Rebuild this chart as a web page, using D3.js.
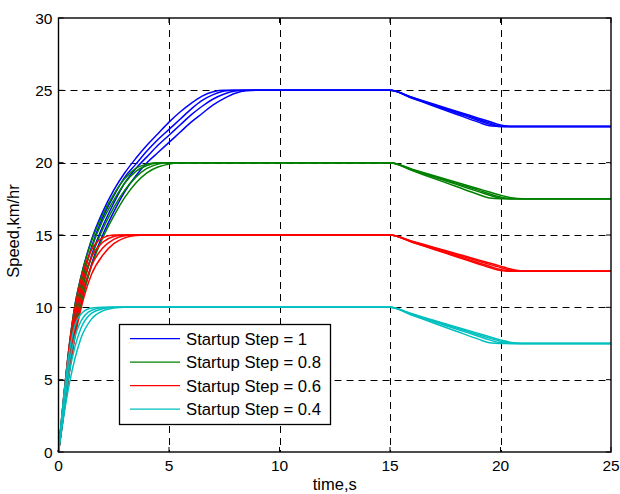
<!DOCTYPE html>
<html><head><meta charset="utf-8">
<script src="https://cdn.jsdelivr.net/npm/d3@7"></script>
<style>body{margin:0;background:#fff}svg{display:block}text{font-family:"Liberation Sans",Arial,sans-serif;fill:#000}</style>
</head><body><svg id="c" width="620" height="494"></svg>
<script>
// time samples (s)
const time = [0,0.25,0.5,0.75,1,1.5,2,2.5,3,3.5,4,4.5,5,5.5,6,6.5,7,7.5,8,8.5,9,10,15,16,17,18,19,19.5,20,20.5,21,25];

// Startup Step = 1 (blue)
const blue1 = [0,4.0,7.5,10.2,12.0,14.7,16.6,18.1,19.3,20.3,21.2,22.0,22.8,23.5,24.1,24.6,24.9,25,25,25,25,25,25,24.45,23.9,23.35,22.8,22.55,22.5,22.5,22.5,22.5];
const blue2 = [0,3.6,6.9,9.5,11.4,14.2,16.2,17.7,19.0,19.9,20.8,21.6,22.3,23.0,23.7,24.3,24.7,24.95,25,25,25,25,25,24.48,23.96,23.44,22.92,22.66,22.5,22.5,22.5,22.5];
const blue3 = [0,3.2,6.3,8.8,10.8,13.6,15.6,17.2,18.6,19.6,20.4,21.2,21.9,22.6,23.3,23.9,24.4,24.75,24.95,25,25,25,25,24.5,24.0,23.5,23.0,22.75,22.52,22.5,22.5,22.5];
const blue4 = [0,2.8,5.7,8.2,10.1,13.0,15.0,16.6,18.0,19.1,20.0,20.7,21.4,22.1,22.8,23.4,24.0,24.45,24.8,24.97,25,25,25,24.52,24.04,23.56,23.08,22.84,22.6,22.5,22.5,22.5];
// Startup Step = 0.8 (green)
const green1 = [0,4.0,7.5,10.2,12.0,14.6,16.4,17.8,18.9,19.6,19.9,20,20,20,20,20,20,20,20,20,20,20,20,19.45,18.9,18.35,17.8,17.55,17.5,17.5,17.5,17.5];
const green2 = [0,3.6,6.9,9.5,11.4,14.1,16.0,17.4,18.6,19.4,19.8,19.97,20,20,20,20,20,20,20,20,20,20,20,19.5,19.0,18.5,18.0,17.75,17.55,17.5,17.5,17.5];
const green3 = [0,3.2,6.3,8.8,10.8,13.5,15.4,16.9,18.1,19.0,19.6,19.9,20,20,20,20,20,20,20,20,20,20,20,19.52,19.05,18.57,18.1,17.85,17.62,17.5,17.5,17.5];
const green4 = [0,2.8,5.7,8.2,10.1,12.9,14.8,16.3,17.6,18.6,19.3,19.7,19.9,20,20,20,20,20,20,20,20,20,20,19.55,19.1,18.65,18.2,17.97,17.75,17.57,17.5,17.5];
// Startup Step = 0.6 (red)
const red1 = [0,4.0,7.5,10.0,11.8,14.0,14.8,15,15,15,15,15,15,15,15,15,15,15,15,15,15,15,15,14.5,14.0,13.5,13.0,12.75,12.55,12.5,12.5,12.5];
const red2 = [0,3.6,6.8,9.3,11.2,13.5,14.5,14.9,15,15,15,15,15,15,15,15,15,15,15,15,15,15,15,14.52,14.04,13.56,13.08,12.84,12.62,12.5,12.5,12.5];
const red3 = [0,3.2,6.2,8.6,10.5,12.9,14.1,14.7,14.95,15,15,15,15,15,15,15,15,15,15,15,15,15,15,14.55,14.1,13.65,13.2,12.97,12.75,12.55,12.5,12.5];
const red4 = [0,2.8,5.6,8.0,9.8,12.3,13.6,14.4,14.8,14.97,15,15,15,15,15,15,15,15,15,15,15,15,15,14.57,14.14,13.71,13.28,13.06,12.85,12.63,12.52,12.5];
// Startup Step = 0.4 (cyan)
const cyan1 = [0,4.0,7.0,8.8,9.5,9.95,10,10,10,10,10,10,10,10,10,10,10,10,10,10,10,10,10,9.45,8.9,8.35,7.8,7.55,7.5,7.5,7.5,7.5];
const cyan2 = [0,3.6,6.3,8.0,9.0,9.8,9.97,10,10,10,10,10,10,10,10,10,10,10,10,10,10,10,10,9.5,9.0,8.5,8.0,7.75,7.55,7.5,7.5,7.5];
const cyan3 = [0,3.1,5.6,7.3,8.5,9.6,9.9,10,10,10,10,10,10,10,10,10,10,10,10,10,10,10,10,9.53,9.05,8.58,8.1,7.87,7.65,7.52,7.5,7.5];
const cyan4 = [0,2.6,4.8,6.5,7.8,9.2,9.75,9.95,10,10,10,10,10,10,10,10,10,10,10,10,10,10,10,9.55,9.1,8.65,8.2,7.97,7.75,7.57,7.5,7.5];

const legendLabels = ["Startup Step = 1","Startup Step = 0.8","Startup Step = 0.6","Startup Step = 0.4"];
const colors = ["#0000ff","#008000","#ff0000","#00bfbf"];
const groups = [[blue1,blue2,blue3,blue4],[green1,green2,green3,green4],[red1,red2,red3,red4],[cyan1,cyan2,cyan3,cyan4]];
const xTicks = [0,5,10,15,20,25];
const yTicks = [0,5,10,15,20,25,30];

const svg = d3.select("#c");
const L=58.5, R=611, T=18, B=452;
const x = d3.scaleLinear().domain([0,25]).range([L,R]);
const y = d3.scaleLinear().domain([0,30]).range([B,T]);

// grid
const g = svg.append("g");
g.selectAll(".gx").data(xTicks.filter(d=>d>0&&d<25)).enter().append("line")
  .attr("x1",d=>Math.round(x(d))+0.5).attr("x2",d=>Math.round(x(d))+0.5).attr("y1",T).attr("y2",B)
  .attr("stroke","#000").attr("stroke-width",1).attr("stroke-dasharray","7,5");
g.selectAll(".gy").data(yTicks.filter(d=>d>0&&d<30)).enter().append("line")
  .attr("y1",d=>Math.round(y(d))+0.5).attr("y2",d=>Math.round(y(d))+0.5).attr("x1",L).attr("x2",R)
  .attr("stroke","#000").attr("stroke-width",1).attr("stroke-dasharray","7,5");

// data lines
const line = d3.line().x((d,i)=>x(time[i])).y(d=>y(d)).curve(d3.curveMonotoneX);
groups.forEach((grp,gi)=>{
  grp.forEach(arr=>{
    svg.append("path").datum(arr).attr("d",line).attr("fill","none")
      .attr("stroke",colors[gi]).attr("stroke-width",1.5);
  });
});

// box
svg.append("rect").attr("x",L).attr("y",T).attr("width",R-L).attr("height",B-T)
  .attr("fill","none").attr("stroke","#000").attr("stroke-width",1.4);

// ticks (inward)
xTicks.forEach(d=>{
  svg.append("line").attr("x1",x(d)).attr("x2",x(d)).attr("y1",B).attr("y2",B-5).attr("stroke","#000");
  svg.append("line").attr("x1",x(d)).attr("x2",x(d)).attr("y1",T).attr("y2",T+5).attr("stroke","#000");
});
yTicks.forEach(d=>{
  svg.append("line").attr("y1",y(d)).attr("y2",y(d)).attr("x1",L).attr("x2",L+5).attr("stroke","#000");
  svg.append("line").attr("y1",y(d)).attr("y2",y(d)).attr("x1",R).attr("x2",R-5).attr("stroke","#000");
});

// tick labels
svg.selectAll(".xl").data(xTicks).enter().append("text")
  .attr("x",d=>x(d)).attr("y",471).attr("text-anchor","middle").attr("font-size",15.5).text(d=>d);
svg.selectAll(".yl").data(yTicks).enter().append("text")
  .attr("x",52.5).attr("y",d=>y(d)).attr("dy","0.36em").attr("text-anchor","end").attr("font-size",15.5).text(d=>d);

// axis labels
svg.append("text").attr("x",(L+R)/2).attr("y",490).attr("text-anchor","middle").attr("font-size",16.5).text("time,s");
svg.append("text").attr("transform","translate(19,231) rotate(-90)").attr("text-anchor","middle").attr("font-size",16.5).text("Speed,km/hr");

// legend
const lg = svg.append("g");
lg.append("rect").attr("x",119.5).attr("y",324.5).attr("width",211).attr("height",100)
  .attr("fill","#fff").attr("stroke","#000").attr("stroke-width",1.3);
legendLabels.forEach((t,i)=>{
  const yy = 338.7 + i*23.5;
  lg.append("line").attr("x1",130).attr("x2",180).attr("y1",yy).attr("y2",yy).attr("stroke",colors[i]).attr("stroke-width",1.3);
  lg.append("text").attr("x",186).attr("y",yy).attr("dy","0.36em").attr("font-size",16.7).text(t);
});
</script></body></html>
